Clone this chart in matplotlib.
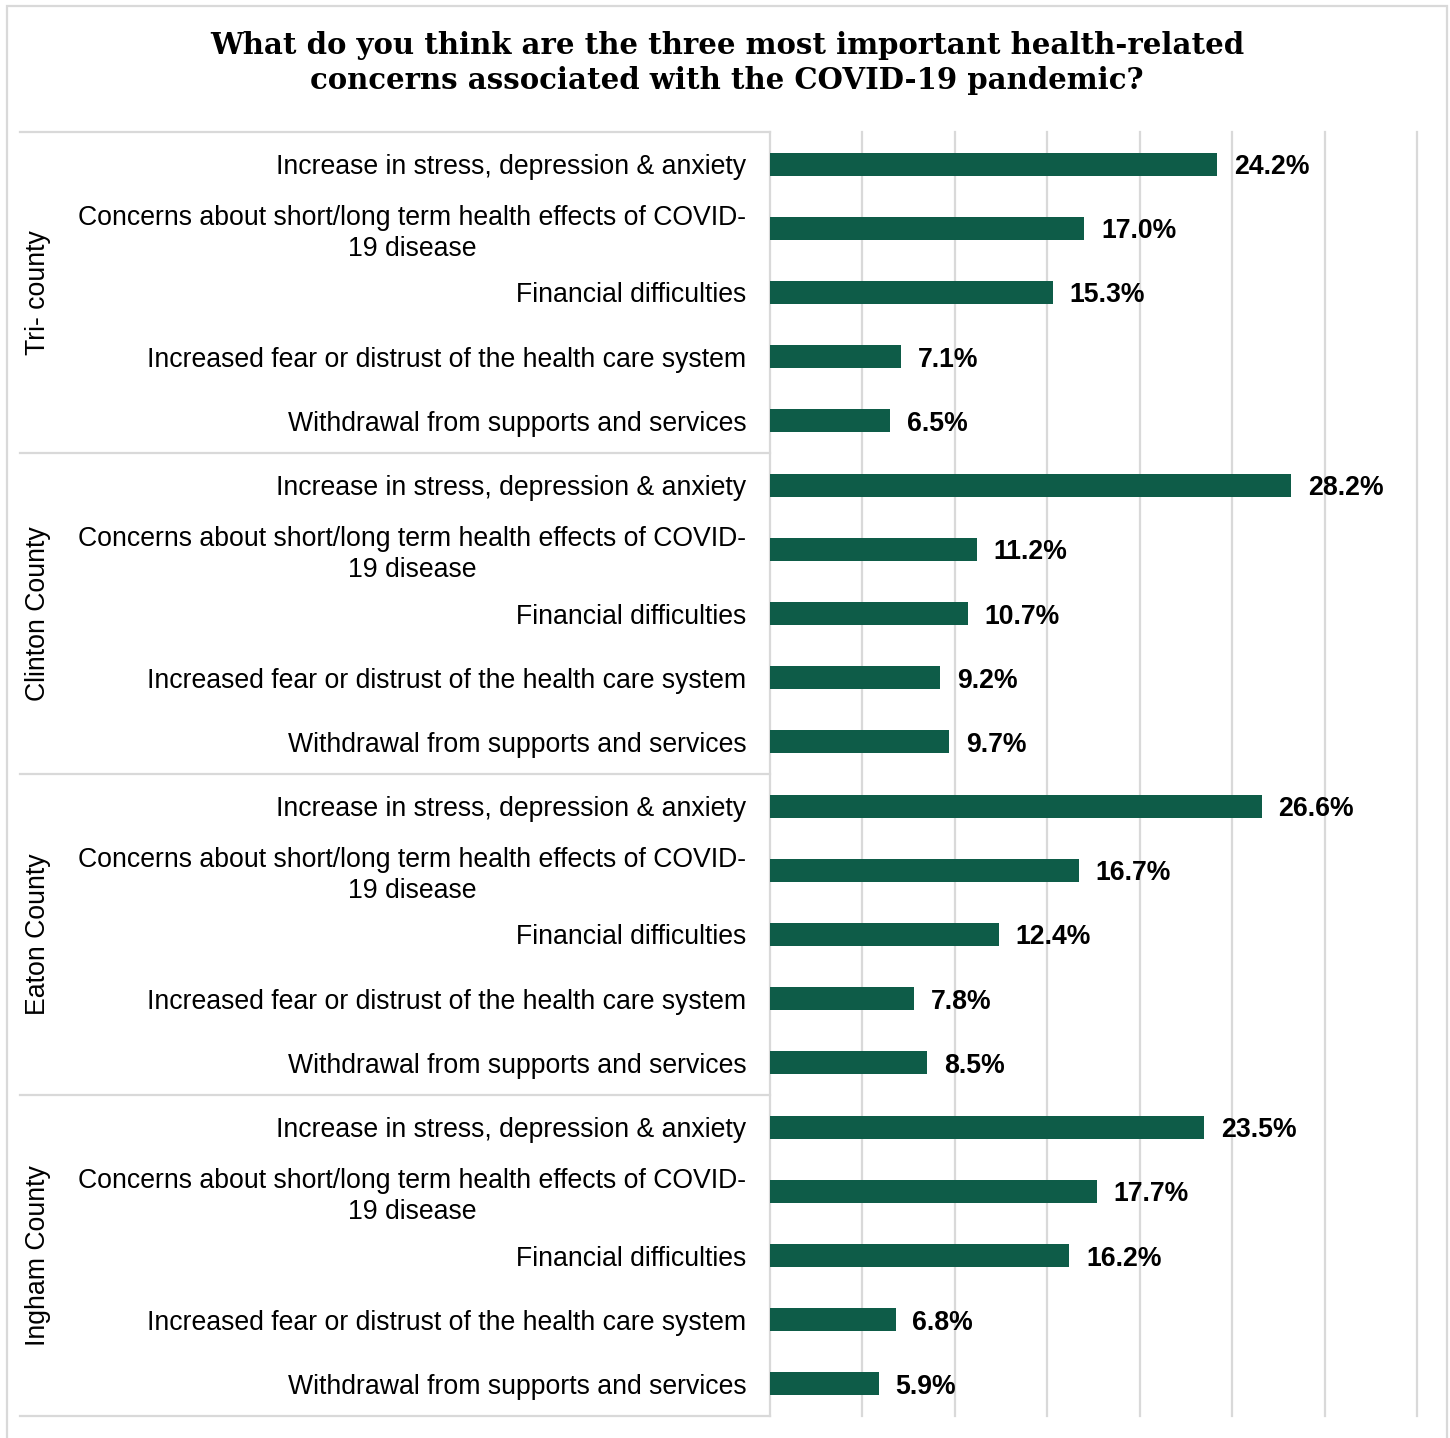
#! /usr/bin/env python3

import matplotlib.pyplot as plt
from matplotlib.patches import Rectangle
import matplotlib.transforms as mtransforms


# Survey answers: share of respondents picking each concern, by area.
groups = ["Tri- county", "Clinton County", "Eaton County", "Ingham County"]
concerns = ["Increase in stress, depression & anxiety",
            "Concerns about short/long term health effects of COVID-\n19 disease",
            "Financial difficulties",
            "Increased fear or distrust of the health care system",
            "Withdrawal from supports and services"]
tri_county = [24.2, 17.0, 15.3, 7.1, 6.5]
clinton = [28.2, 11.2, 10.7, 9.2, 9.7]
eaton = [26.6, 16.7, 12.4, 7.8, 8.5]
ingham = [23.5, 17.7, 16.2, 6.8, 5.9]

values = tri_county + clinton + eaton + ingham
labels = concerns * len(groups)
ypos = list(range(len(values)))

bar_color = "#0e5c48"
grid_color = "#d9d9d9"
fs = 19.2

W, H = 1450, 1438
fig = plt.figure(figsize=(W / 100, H / 100), dpi=100)
ax = fig.add_axes([770 / W, 1 - 1416 / H, 647 / W, (1416 - 132) / H])

ax.barh(ypos, values, height=0.36, color=bar_color, zorder=3)
ax.set_xlim(0, 35)
ax.set_ylim(len(values) - 0.5, -0.5)

# value labels
for y, v in zip(ypos, values):
    ax.text(v + 0.9, y, f"{v:.1f}%", va="center_baseline", ha="left",
            fontsize=fs, fontweight="bold", family="Liberation Sans")

# gridlines
for gx in range(5, 40, 5):
    ax.axvline(gx, color=grid_color, lw=1.6, zorder=1, clip_on=False)

ax.set_xticks([])
ax.set_yticks(ypos)
ax.set_yticklabels(labels, fontsize=fs, family="Liberation Sans",
                   multialignment="center", linespacing=1.25)
ax.tick_params(axis="y", length=0, pad=17)
for s in ["top", "right", "bottom"]:
    ax.spines[s].set_visible(False)
ax.spines["left"].set_color(grid_color)
ax.spines["left"].set_linewidth(1.6)

# group separators and group names
trans = mtransforms.blended_transform_factory(fig.transFigure, ax.transData)
x0 = 20 / W
x1 = 770 / W
n = len(concerns)
for i, g in enumerate(groups):
    top = i * n - 0.5
    ax.plot([x0, x1], [top, top], transform=trans, color=grid_color,
            lw=1.6, clip_on=False)
    ax.text(38 / W, i * n + (n - 1) / 2, g, transform=trans, rotation=90,
            ha="center", va="center", fontsize=fs, family="Liberation Sans")
ax.plot([x0, x1], [len(values) - 0.5] * 2, transform=trans,
        color=grid_color, lw=1.6, clip_on=False)

fig.suptitle("What do you think are the three most important health-related\n"
             "concerns associated with the COVID-19 pandemic?",
             x=727 / W, y=1 - 63 / H, va="center", fontsize=21,
             fontweight="bold", family="DejaVu Serif", linespacing=1.3)

# outer frame
fig.patches.append(Rectangle((7 / W, -0.01), 1440 / W, 1 - 6 / H + 0.01,
                             transform=fig.transFigure, fill=False,
                             edgecolor=grid_color, lw=1.6))

fig.savefig("out.png", dpi=100)
